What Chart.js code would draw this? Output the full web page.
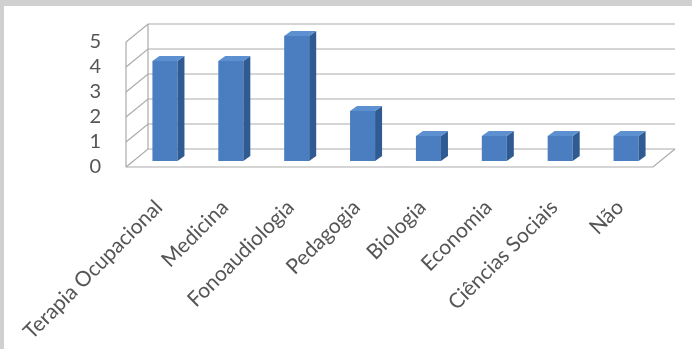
<!DOCTYPE html>
<html>
<head>
<meta charset="utf-8">
<script src="https://cdn.jsdelivr.net/npm/chart.js@4"></script>
<style>
  body { margin: 0; background: #ffffff; }
  #wrap { width: 692px; height: 349px; }
</style>
</head>
<body>
<div id="wrap"><canvas id="myBarChart" width="692" height="349"></canvas></div>
<script>
var categories = ['Terapia Ocupacional', 'Medicina', 'Fonoaudiologia', 'Pedagogia', 'Biologia', 'Economia', 'Ciências Sociais', 'Não'];
var values = [4, 4, 5, 2, 1, 1, 1, 1];
var yTicks = [0, 1, 2, 3, 4, 5];

// profondita' del "3d" finto
var DX = 22, DY = 18;      // parete di fondo
var BX = 6, BY = 6;        // spostamento barre verso il fondo
var SX = 7, SY = 5;        // spessore barre

// cornice grigia + pareti e pavimento
var wallPlugin = {
  id: 'wall',
  beforeDraw: function (chart) {
    var ctx = chart.ctx;
    var a = chart.chartArea;
    var y = chart.scales.y;
    ctx.save();
    ctx.fillStyle = '#d0d0d0';
    ctx.fillRect(0, 0, chart.width, chart.height);
    ctx.fillStyle = '#ffffff';
    ctx.fillRect(4, 6, chart.width - 4, chart.height - 6);

    ctx.strokeStyle = '#ababab';
    ctx.lineWidth = 1.2;
    for (var i = 0; i < yTicks.length; i++) {
      var py = y.getPixelForValue(yTicks[i]);
      ctx.beginPath();
      ctx.moveTo(a.left, py);
      ctx.lineTo(a.left + DX, py - DY);
      ctx.lineTo(a.right + DX, py - DY);
      ctx.stroke();
    }
    var top = y.getPixelForValue(yTicks[yTicks.length - 1]);
    ctx.beginPath();
    // spigoli verticali parete sinistra
    ctx.moveTo(a.left, a.bottom);
    ctx.lineTo(a.left, top);
    ctx.moveTo(a.left + DX, a.bottom - DY);
    ctx.lineTo(a.left + DX, top - DY);
    // pavimento
    ctx.moveTo(a.left, a.bottom);
    ctx.lineTo(a.right, a.bottom);
    ctx.lineTo(a.right + DX, a.bottom - DY);
    ctx.stroke();
    ctx.restore();
  },
  beforeDatasetsDraw: function (chart) {
    chart.ctx.save();
    chart.ctx.translate(BX, -BY);
  },
  afterDatasetsDraw: function (chart) {
    var ctx = chart.ctx;
    var bars = chart.getDatasetMeta(0).data;
    for (var i = 0; i < bars.length; i++) {
      var b = bars[i];
      var x0 = b.x - b.width / 2;
      var x1 = b.x + b.width / 2;
      // lato destro
      ctx.fillStyle = '#2f5b92';
      ctx.beginPath();
      ctx.moveTo(x1, b.y);
      ctx.lineTo(x1 + SX, b.y - SY);
      ctx.lineTo(x1 + SX, b.base - SY);
      ctx.lineTo(x1, b.base);
      ctx.closePath();
      ctx.fill();
      // tetto
      ctx.fillStyle = '#5d90d0';
      ctx.beginPath();
      ctx.moveTo(x0, b.y);
      ctx.lineTo(x0 + SX, b.y - SY);
      ctx.lineTo(x1 + SX, b.y - SY);
      ctx.lineTo(x1, b.y);
      ctx.closePath();
      ctx.fill();
    }
    ctx.restore();
  }
};

var myBarChart = new Chart(document.getElementById('myBarChart'), {
  type: 'bar',
  data: {
    labels: categories,
    datasets: [{
      data: values,
      backgroundColor: '#4a7ec0',
      borderWidth: 0,
      barPercentage: 0.38,
      categoryPercentage: 1
    }]
  },
  options: {
    responsive: false,
    animation: false,
    layout: { padding: { top: 42, right: 39, left: 0, bottom: 0 } },
    plugins: {
      legend: { display: false },
      tooltip: { enabled: false }
    },
    scales: {
      x: {
        grid: { display: false, drawTicks: false },
        border: { display: false },
        ticks: {
          minRotation: 45,
          maxRotation: 45,
          autoSkip: false,
          padding: 28,
          color: '#555555',
          font: { family: 'Lato', size: 21 }
        },
        afterFit: function (s) {
          s.height = 182;
          s.paddingLeft = 0;
          s.paddingRight = 0;
        }
      },
      y: {
        min: 0,
        max: 5,
        grid: { display: false, drawTicks: false },
        border: { display: false },
        ticks: {
          stepSize: 1,
          autoSkip: false,
          padding: 25,
          color: '#555555',
          font: { family: 'Lato', size: 20 }
        },
        afterFit: function (s) { s.width = 126; }
      }
    }
  },
  plugins: [wallPlugin]
});
</script>
</body>
</html>
